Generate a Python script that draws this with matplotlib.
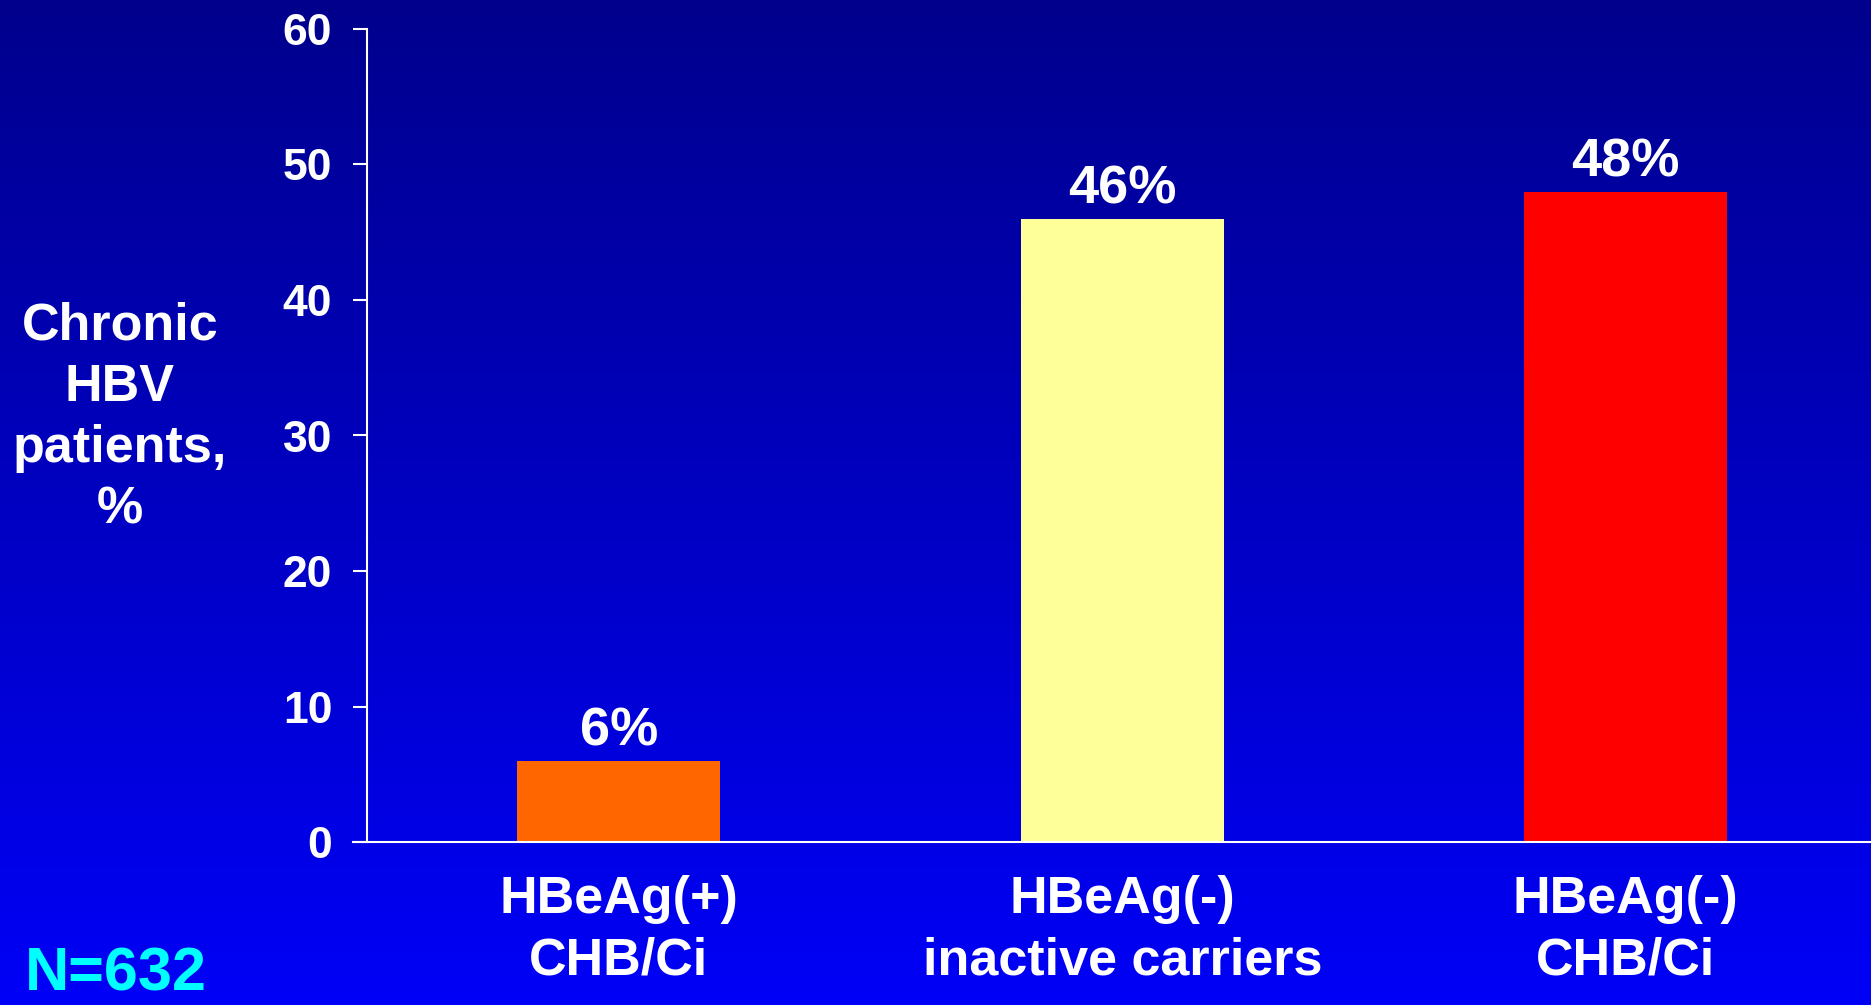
import numpy as np
import matplotlib
matplotlib.use("Agg")
import matplotlib.pyplot as plt

# Data
categories = ["HBeAg(+)\nCHB/Ci", "HBeAg(-)\ninactive carriers", "HBeAg(-)\nCHB/Ci"]
percent = [6, 46, 48]
bar_colors = ["#FF6600", "#FFFF99", "#FF0000"]
y_ticks = [0, 10, 20, 30, 40, 50, 60]

font = ["Liberation Sans", "DejaVu Sans"]

W, H, DPI = 1871, 1005, 100
fig = plt.figure(figsize=(W / DPI, H / DPI), dpi=DPI)

# Vertical blue gradient background
bg = fig.add_axes([0, 0, 1, 1], zorder=0)
bg.set_axis_off()
t = np.linspace(0, 1, 256)[:, None]
top = np.array([0.0, 0.0, 0.55])
bot = np.array([0.0, 0.0, 0.97])
grad = top[None, None, :] * (1 - t[..., None]) + bot[None, None, :] * t[..., None]
grad = np.repeat(grad, 2, axis=1)
bg.imshow(grad, aspect="auto", extent=[0, 1, 0, 1], origin="upper")

left, right = 367 / W, 1.0
bottom, topp = 1 - 842 / H, 1 - 29 / H
ax = fig.add_axes([left, bottom, right - left, topp - bottom], zorder=1)
ax.patch.set_alpha(0)

x = np.arange(len(categories))
bars = ax.bar(x, percent, width=0.403, color=bar_colors, zorder=2)

ax.set_xlim(-0.5, 2.487)
ax.set_ylim(0, 60)
ax.set_yticks(y_ticks)
ax.set_yticklabels([str(v) for v in y_ticks], family=font, fontweight="bold",
                   fontsize=32, color="white")
ax.tick_params(axis="y", length=10, width=1.5, color="white", pad=15)

ax.set_xticks(x)
ax.set_xticklabels(categories, family=font, fontweight="bold", fontsize=37.5,
                   color="white", linespacing=1.33)
ax.tick_params(axis="x", length=0, pad=24)

for s in ["top", "right"]:
    ax.spines[s].set_visible(False)
for s in ["left", "bottom"]:
    ax.spines[s].set_color("white")
    ax.spines[s].set_linewidth(1.5)
# extend the baseline a tick's length to the left
ax.spines["bottom"].set_bounds(-0.5 - 14 / 503.5, 2.487)

for b, v in zip(bars, percent):
    ax.annotate(f"{v}%", (b.get_x() + b.get_width() / 2, v), xytext=(0, 11),
                textcoords="offset points", ha="center", va="baseline",
                family=font, fontweight="bold", fontsize=39, color="white",
                annotation_clip=False)

fig.text(120 / W, 1 - 418 / H, "Chronic\nHBV\npatients,\n%", ha="center", va="center",
         multialignment="center", family=font, fontweight="bold", fontsize=37.5,
         color="white", linespacing=1.33)

fig.text(25 / W, 1 - 990 / H, "N=632", ha="left", va="baseline",
         family=font, fontweight="bold", fontsize=44, color="#00FFFF")

fig.savefig("out.png", dpi=DPI)
